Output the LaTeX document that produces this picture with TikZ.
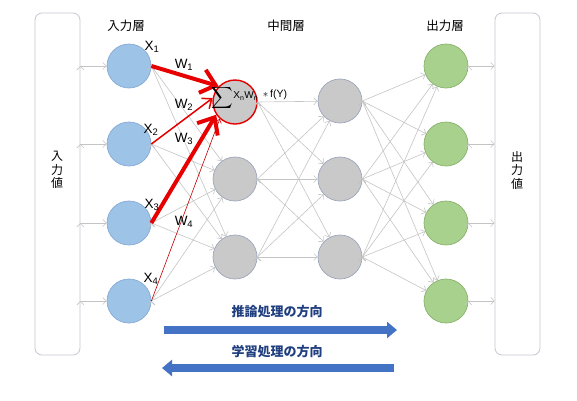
\documentclass[tikz,border=0pt]{standalone}
\usepackage{graphicx}
\usepackage{fontspec}
\setmainfont{Liberation Sans}
\newfontfamily\jp{Noto Sans CJK JP}
\usetikzlibrary{arrows}
\usetikzlibrary{arrows.meta}
\usetikzlibrary{positioning}
\definecolor{infill}{HTML}{9DC3E6}
\definecolor{indraw}{HTML}{86AAD6}
\definecolor{midfill}{HTML}{C9C9C9}
\definecolor{middraw}{HTML}{9CA5BC}
\definecolor{outfill}{HTML}{A9D18E}
\definecolor{outdraw}{HTML}{88B26C}
\definecolor{edgegray}{HTML}{C4C4C4}
\definecolor{boxgray}{HTML}{C3C7CE}
\definecolor{wred}{HTML}{E60000}
\definecolor{thinred}{HTML}{C00000}
\definecolor{arrowblue}{HTML}{4472C4}
\definecolor{textblue}{HTML}{203F80}

\begin{document}
\begin{tikzpicture}[x=1pt,y=-1pt,
    in node/.style={circle,draw=indraw,fill=infill,line width=0.7pt,minimum size=44pt,inner sep=0pt},
    mid node/.style={circle,draw=middraw,fill=midfill,line width=0.7pt,minimum size=44pt,inner sep=0pt},
    out node/.style={circle,draw=outdraw,fill=outfill,line width=0.7pt,minimum size=44pt,inner sep=0pt},
    side box/.style={draw=boxgray,line width=0.8pt,rounded corners=7pt,minimum width=45pt,minimum height=342pt},
    layer label/.style={font=\jp\fontsize{12.5}{14}\selectfont},
    side label/.style={font=\jp\fontsize{12}{13.5}\selectfont,align=center},
    x label/.style={font=\fontsize{13.5}{15}\selectfont,inner sep=0pt},
    gray edge/.style={-{Straight Barb[length=3.5pt,width=7pt]},draw=edgegray,line width=0.6pt},
    dir label/.style={font=\jp\bfseries\fontsize{13}{15}\selectfont,text=textblue},
    blue arrow/.style={draw=arrowblue,line width=8pt,-{Triangle[length=10pt,width=16pt]}}]
   \useasboundingbox (0,0) rectangle (577,400);
   % side boxes
   \node[side box] (inbox) at (57.5,184) {};
   \node[side box] (outbox) at (517.5,184) {};
   \node[side label] at (57,170) {入\\力\\値};
   \node[side label] at (517,170) {出\\力\\値};
   % layer titles
   \node[layer label] at (126,26) {入力層};
   \node[layer label] at (286,26) {中間層};
   \node[layer label] at (445,26) {出力層};
   % input layer
   \node[in node] (a1) at (129,66) {};
   \node[in node] (a2) at (129,144) {};
   \node[in node] (a3) at (129,223) {};
   \node[in node] (a4) at (129,301) {};
   % hidden layers
   \node[mid node,draw=wred,line width=1.4pt] (b1) at (235,102) {};
   \node[mid node] (b2) at (235,179) {};
   \node[mid node] (b3) at (235,257) {};
   \node[mid node] (c1) at (340,101) {};
   \node[mid node] (c2) at (340,179) {};
   \node[mid node] (c3) at (340,257) {};
   % output layer
   \node[out node] (d1) at (446,66) {};
   \node[out node] (d2) at (446,144) {};
   \node[out node] (d3) at (446,223) {};
   \node[out node] (d4) at (446,301) {};
   % in and out
   \path[gray edge] (inbox.east |- a1) edge (a1);
   \path[gray edge] (inbox.east |- a2) edge (a2);
   \path[gray edge] (inbox.east |- a3) edge (a3);
   \path[gray edge] (inbox.east |- a4) edge (a4);
   \path[gray edge] (d1.east) edge (outbox.west |- d1);
   \path[gray edge] (d2.east) edge (outbox.west |- d2);
   \path[gray edge] (d3.east) edge (outbox.west |- d3);
   \path[gray edge] (d4.east) edge (outbox.west |- d4);
   % input -> hidden
   \path[gray edge] (a1.east) edge (b2);
   \path[gray edge] (a1.east) edge (b3);
   \path[gray edge] (a2.east) edge (b2);
   \path[gray edge] (a2.east) edge (b3);
   \path[gray edge] (a3.east) edge (b2);
   \path[gray edge] (a3.east) edge (b3);
   \path[gray edge] (a4.east) edge (b2);
   \path[gray edge] (a4.east) edge (b3);
   % hidden -> hidden
   \path[gray edge] (b1.east) edge (c1);
   \path[gray edge] (b1.east) edge (c2);
   \path[gray edge] (b1.east) edge (c3);
   \path[gray edge] (b2.east) edge (c1);
   \path[gray edge] (b2.east) edge (c2);
   \path[gray edge] (b2.east) edge (c3);
   \path[gray edge] (b3.east) edge (c1);
   \path[gray edge] (b3.east) edge (c2);
   \path[gray edge] (b3.east) edge (c3);
   % hidden -> output
   \path[gray edge] (c1.east) edge (d1);
   \path[gray edge] (c1.east) edge (d2);
   \path[gray edge] (c1.east) edge (d3);
   \path[gray edge] (c1.east) edge (d4);
   \path[gray edge] (c2.east) edge (d1);
   \path[gray edge] (c2.east) edge (d2);
   \path[gray edge] (c2.east) edge (d3);
   \path[gray edge] (c2.east) edge (d4);
   \path[gray edge] (c3.east) edge (d1);
   \path[gray edge] (c3.east) edge (d2);
   \path[gray edge] (c3.east) edge (d3);
   \path[gray edge] (c3.east) edge (d4);
   % weighted inputs of the red unit
   \draw[thinred,line width=0.6pt,-{Straight Barb[length=3.5pt,width=6pt]}] (a4.east) -- (b1.228);
   \draw[wred,line width=1.5pt,-{Straight Barb[length=8pt,width=13pt]}] (a2.east) -- (b1.170);
   \draw[wred,line width=4pt,-{Straight Barb[length=14pt,width=24pt]}] (a1.east) -- (b1.136);
   \draw[wred,line width=4pt,-{Straight Barb[length=14pt,width=24pt]}] (a3.east) -- (b1.214);
   % labels
   \node[x label] at (152,47) {X\textsubscript{1}};
   \node[x label] at (151,130) {X\textsubscript{2}};
   \node[x label] at (152,205) {X\textsubscript{3}};
   \node[x label] at (151,279) {X\textsubscript{4}};
   \node[x label] at (184,65) {W\textsubscript{1}};
   \node[x label] at (184,105) {W\textsubscript{2}};
   \node[x label] at (184,139) {W\textsubscript{3}};
   \node[x label] at (184,222) {W\textsubscript{4}};
   \node[inner sep=0pt] at (235,98) {\raisebox{-0.6ex}{\scalebox{1.5}{$\displaystyle\sum$}}\fontsize{10}{12}\selectfont X\textsubscript{n}W\textsubscript{n}};
   \node[font=\fontsize{10.5}{11}\selectfont,inner sep=0pt] at (275,95) {$\ast$\,f(Y)};
   % direction arrows
   \coordinate (fs) at (164,330);
   \coordinate (fe) at (397,330);
   \coordinate (bs) at (394,368);
   \coordinate (be) at (162,368);
   \draw[blue arrow] (fs) -- (fe);
   \draw[blue arrow] (bs) -- (be);
   \node[dir label] at (277,312) {推論処理の方向};
   \node[dir label] at (277,352) {学習処理の方向};
\end{tikzpicture}
\end{document}
